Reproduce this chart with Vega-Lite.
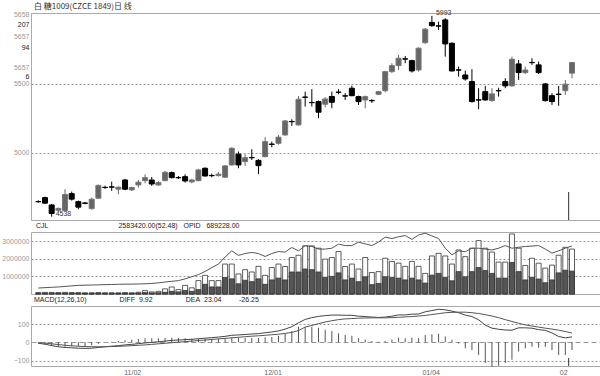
{
"$schema": "https://vega.github.io/schema/vega-lite/v6.json",
"padding": {"top": 3, "left": 0, "right": 0, "bottom": 0},
"background": "white",
"spacing": 0,
"title": {"text": "白\u00a0糖1009(CZCE 1849)日\u00a0线", "anchor": "start", "frame": "group", "font": "Noto Sans CJK SC", "fontSize": 8, "fontWeight": "normal", "color": "#333", "offset": -3, "dx": 3},
"datasets": {
"k": [
{"i":0,"o":4648,"h":4656,"l":4640,"c":4646,"v":80000,"vi":40000,"oi":340000,"dif":-5,"dea":-2,"m":-6},
{"i":1,"o":4676,"h":4683,"l":4630,"c":4636,"v":90000,"vi":45000,"oi":360000,"dif":-10,"dea":-4,"m":-12},
{"i":2,"o":4623,"h":4630,"l":4538,"c":4561,"v":90000,"vi":45000,"oi":380000,"dif":-18,"dea":-8,"m":-20},
{"i":3,"o":4585,"h":4605,"l":4575,"c":4598,"v":80000,"vi":40000,"oi":400000,"dif":-24,"dea":-12,"m":-24},
{"i":4,"o":4583,"h":4737,"l":4575,"c":4699,"v":90000,"vi":45000,"oi":430000,"dif":-28,"dea":-16,"m":-24},
{"i":5,"o":4705,"h":4720,"l":4655,"c":4665,"v":80000,"vi":40000,"oi":460000,"dif":-30,"dea":-19,"m":-22},
{"i":6,"o":4647,"h":4655,"l":4592,"c":4607,"v":80000,"vi":40000,"oi":490000,"dif":-32,"dea":-21,"m":-22},
{"i":7,"o":4637,"h":4645,"l":4628,"c":4635,"v":70000,"vi":35000,"oi":500000,"dif":-33,"dea":-23,"m":-20},
{"i":8,"o":4596,"h":4676,"l":4590,"c":4665,"v":70000,"vi":35000,"oi":510000,"dif":-32,"dea":-24,"m":-16},
{"i":9,"o":4672,"h":4770,"l":4668,"c":4765,"v":80000,"vi":40000,"oi":520000,"dif":-28,"dea":-24,"m":-8},
{"i":10,"o":4751,"h":4762,"l":4740,"c":4749,"v":70000,"vi":35000,"oi":530000,"dif":-24,"dea":-24,"m":0},
{"i":11,"o":4754,"h":4792,"l":4725,"c":4752,"v":70000,"vi":35000,"oi":540000,"dif":-21,"dea":-23,"m":4},
{"i":12,"o":4737,"h":4756,"l":4702,"c":4752,"v":70000,"vi":35000,"oi":550000,"dif":-18,"dea":-22,"m":8},
{"i":13,"o":4804,"h":4812,"l":4730,"c":4737,"v":80000,"vi":40000,"oi":560000,"dif":-14,"dea":-20,"m":12},
{"i":14,"o":4732,"h":4755,"l":4725,"c":4749,"v":70000,"vi":35000,"oi":560000,"dif":-11,"dea":-18,"m":14},
{"i":15,"o":4768,"h":4804,"l":4749,"c":4788,"v":100000,"vi":50000,"oi":570000,"dif":-7,"dea":-16,"m":18},
{"i":16,"o":4799,"h":4845,"l":4780,"c":4821,"v":190000,"vi":80000,"oi":580000,"dif":-3,"dea":-14,"m":22},
{"i":17,"o":4804,"h":4826,"l":4761,"c":4775,"v":120000,"vi":60000,"oi":600000,"dif":0,"dea":-11,"m":22},
{"i":18,"o":4768,"h":4797,"l":4761,"c":4785,"v":150000,"vi":70000,"oi":630000,"dif":3,"dea":-8,"m":22},
{"i":19,"o":4799,"h":4870,"l":4795,"c":4860,"v":290000,"vi":100000,"oi":680000,"dif":7,"dea":-5,"m":24},
{"i":20,"o":4857,"h":4865,"l":4815,"c":4821,"v":400000,"vi":150000,"oi":720000,"dif":11,"dea":-2,"m":26},
{"i":21,"o":4822,"h":4833,"l":4812,"c":4820,"v":250000,"vi":120000,"oi":760000,"dif":13,"dea":1,"m":24},
{"i":22,"o":4828,"h":4845,"l":4785,"c":4797,"v":490000,"vi":200000,"oi":860000,"dif":15,"dea":4,"m":22},
{"i":23,"o":4790,"h":4812,"l":4780,"c":4804,"v":350000,"vi":150000,"oi":980000,"dif":17,"dea":7,"m":20},
{"i":24,"o":4799,"h":4885,"l":4795,"c":4877,"v":760000,"vi":250000,"oi":1100000,"dif":20,"dea":10,"m":20},
{"i":25,"o":4889,"h":4895,"l":4828,"c":4833,"v":1060000,"vi":550000,"oi":1280000,"dif":23,"dea":13,"m":20},
{"i":26,"o":4837,"h":4850,"l":4824,"c":4835,"v":760000,"vi":400000,"oi":1500000,"dif":26,"dea":16,"m":20},
{"i":27,"o":4836,"h":4862,"l":4828,"c":4846,"v":760000,"vi":400000,"oi":1700000,"dif":29,"dea":19,"m":20},
{"i":28,"o":4824,"h":4912,"l":4820,"c":4906,"v":1700000,"vi":940000,"oi":2100000,"dif":33,"dea":22,"m":22},
{"i":29,"o":4913,"h":5040,"l":4908,"c":5034,"v":1700000,"vi":860000,"oi":2450000,"dif":39,"dea":25,"m":28},
{"i":30,"o":4991,"h":5010,"l":4889,"c":4913,"v":1140000,"vi":580000,"oi":2190000,"dif":41,"dea":28,"m":26},
{"i":31,"o":4937,"h":4991,"l":4906,"c":4966,"v":1380000,"vi":780000,"oi":2300000,"dif":43,"dea":31,"m":24},
{"i":32,"o":4967,"h":5027,"l":4949,"c":4965,"v":1250000,"vi":700000,"oi":2360000,"dif":46,"dea":34,"m":24},
{"i":33,"o":4946,"h":4955,"l":4846,"c":4908,"v":1570000,"vi":860000,"oi":2300000,"dif":48,"dea":36,"m":24},
{"i":34,"o":4973,"h":5114,"l":4968,"c":5082,"v":1060000,"vi":550000,"oi":2130000,"dif":53,"dea":39,"m":28},
{"i":35,"o":5064,"h":5082,"l":5041,"c":5062,"v":1500000,"vi":800000,"oi":2300000,"dif":57,"dea":42,"m":30},
{"i":36,"o":5070,"h":5130,"l":5060,"c":5114,"v":1700000,"vi":900000,"oi":2410000,"dif":63,"dea":45,"m":36},
{"i":37,"o":5130,"h":5239,"l":5125,"c":5232,"v":1560000,"vi":800000,"oi":2380000,"dif":73,"dea":49,"m":48},
{"i":38,"o":5228,"h":5244,"l":5196,"c":5226,"v":2070000,"vi":1250000,"oi":2640000,"dif":86,"dea":55,"m":62},
{"i":39,"o":5203,"h":5413,"l":5198,"c":5389,"v":2200000,"vi":1250000,"oi":2450000,"dif":108,"dea":65,"m":86},
{"i":40,"o":5405,"h":5444,"l":5336,"c":5403,"v":2730000,"vi":1420000,"oi":2750000,"dif":126,"dea":84,"m":84},
{"i":41,"o":5366,"h":5462,"l":5336,"c":5364,"v":2730000,"vi":1380000,"oi":2700000,"dif":136,"dea":93,"m":86},
{"i":42,"o":5372,"h":5380,"l":5251,"c":5295,"v":2600000,"vi":1250000,"oi":2550000,"dif":143,"dea":103,"m":80},
{"i":43,"o":5353,"h":5404,"l":5331,"c":5391,"v":1980000,"vi":950000,"oi":2550000,"dif":147,"dea":112,"m":70},
{"i":44,"o":5409,"h":5444,"l":5324,"c":5367,"v":2070000,"vi":1000000,"oi":2600000,"dif":150,"dea":119,"m":62},
{"i":45,"o":5441,"h":5462,"l":5425,"c":5439,"v":2410000,"vi":1200000,"oi":2830000,"dif":150,"dea":125,"m":50},
{"i":46,"o":5414,"h":5433,"l":5384,"c":5412,"v":1560000,"vi":800000,"oi":2750000,"dif":149,"dea":129,"m":40},
{"i":47,"o":5469,"h":5488,"l":5410,"c":5415,"v":1700000,"vi":900000,"oi":2750000,"dif":149,"dea":131,"m":36},
{"i":48,"o":5408,"h":5415,"l":5348,"c":5372,"v":1420000,"vi":700000,"oi":2940000,"dif":144,"dea":133,"m":22},
{"i":49,"o":5384,"h":5415,"l":5324,"c":5408,"v":2070000,"vi":980000,"oi":2850000,"dif":142,"dea":134,"m":16},
{"i":50,"o":5380,"h":5391,"l":5362,"c":5378,"v":1220000,"vi":530000,"oi":2750000,"dif":139,"dea":135,"m":8},
{"i":51,"o":5425,"h":5450,"l":5420,"c":5444,"v":1270000,"vi":600000,"oi":2950000,"dif":137,"dea":135,"m":4},
{"i":52,"o":5451,"h":5595,"l":5440,"c":5589,"v":2030000,"vi":980000,"oi":3230000,"dif":139,"dea":135,"m":8},
{"i":53,"o":5589,"h":5650,"l":5580,"c":5633,"v":1850000,"vi":950000,"oi":3150000,"dif":144,"dea":136,"m":16},
{"i":54,"o":5633,"h":5710,"l":5601,"c":5686,"v":1750000,"vi":900000,"oi":3250000,"dif":151,"dea":138,"m":26},
{"i":55,"o":5682,"h":5703,"l":5650,"c":5680,"v":1570000,"vi":800000,"oi":3320000,"dif":151,"dea":140,"m":22},
{"i":56,"o":5669,"h":5675,"l":5582,"c":5594,"v":1850000,"vi":900000,"oi":3100000,"dif":155,"dea":142,"m":26},
{"i":57,"o":5601,"h":5765,"l":5589,"c":5759,"v":1570000,"vi":800000,"oi":3350000,"dif":156,"dea":145,"m":22},
{"i":58,"o":5799,"h":5905,"l":5790,"c":5897,"v":1170000,"vi":620000,"oi":3450000,"dif":168,"dea":148,"m":40},
{"i":59,"o":5946,"h":5993,"l":5915,"c":5922,"v":2160000,"vi":1070000,"oi":3300000,"dif":175,"dea":153,"m":44},
{"i":60,"o":5921,"h":5951,"l":5891,"c":5919,"v":2310000,"vi":1170000,"oi":3150000,"dif":182,"dea":158,"m":48},
{"i":61,"o":5964,"h":5976,"l":5698,"c":5790,"v":2160000,"vi":950000,"oi":2600000,"dif":179,"dea":163,"m":32},
{"i":62,"o":5795,"h":5800,"l":5590,"c":5594,"v":1700000,"vi":750000,"oi":2230000,"dif":172,"dea":165,"m":14},
{"i":63,"o":5602,"h":5625,"l":5553,"c":5600,"v":2500000,"vi":1270000,"oi":2450000,"dif":163,"dea":166,"m":-6},
{"i":64,"o":5565,"h":5596,"l":5524,"c":5536,"v":2120000,"vi":980000,"oi":2400000,"dif":150,"dea":166,"m":-32},
{"i":65,"o":5517,"h":5607,"l":5365,"c":5372,"v":2600000,"vi":1270000,"oi":2600000,"dif":142,"dea":163,"m":-42},
{"i":66,"o":5385,"h":5469,"l":5317,"c":5383,"v":3030000,"vi":1500000,"oi":2600000,"dif":124,"dea":159,"m":-70},
{"i":67,"o":5444,"h":5486,"l":5378,"c":5384,"v":2600000,"vi":1330000,"oi":2550000,"dif":95,"dea":152,"m":-114},
{"i":68,"o":5379,"h":5469,"l":5372,"c":5428,"v":2380000,"vi":1170000,"oi":2500000,"dif":78,"dea":145,"m":-134},
{"i":69,"o":5452,"h":5473,"l":5408,"c":5450,"v":1810000,"vi":900000,"oi":2600000,"dif":72,"dea":136,"m":-128},
{"i":70,"o":5517,"h":5541,"l":5469,"c":5486,"v":1810000,"vi":900000,"oi":2750000,"dif":68,"dea":125,"m":-114},
{"i":71,"o":5486,"h":5698,"l":5480,"c":5679,"v":3410000,"vi":1790000,"oi":2600000,"dif":67,"dea":115,"m":-96},
{"i":72,"o":5645,"h":5674,"l":5529,"c":5582,"v":2600000,"vi":1270000,"oi":2650000,"dif":80,"dea":105,"m":-50},
{"i":73,"o":5582,"h":5625,"l":5572,"c":5601,"v":1620000,"vi":800000,"oi":2700000,"dif":80,"dea":96,"m":-33},
{"i":74,"o":5656,"h":5686,"l":5638,"c":5654,"v":2030000,"vi":950000,"oi":2720000,"dif":78,"dea":90,"m":-24},
{"i":75,"o":5638,"h":5662,"l":5572,"c":5582,"v":1750000,"vi":850000,"oi":2750000,"dif":70,"dea":84,"m":-29},
{"i":76,"o":5500,"h":5507,"l":5372,"c":5379,"v":1470000,"vi":640000,"oi":2550000,"dif":66,"dea":78,"m":-24},
{"i":77,"o":5415,"h":5433,"l":5348,"c":5372,"v":1640000,"vi":800000,"oi":2320000,"dif":52,"dea":73,"m":-42},
{"i":78,"o":5426,"h":5486,"l":5341,"c":5424,"v":2200000,"vi":1200000,"oi":2450000,"dif":32,"dea":67,"m":-70},
{"i":79,"o":5451,"h":5529,"l":5420,"c":5498,"v":2650000,"vi":1350000,"oi":2600000,"dif":25,"dea":60,"m":-70},
{"i":80,"o":5578,"h":5660,"l":5541,"c":5655,"v":2550000,"vi":1300000,"oi":2730000,"dif":30,"dea":51,"m":-42}
]
},
"vconcat": [
{
"width": 570, "height": 207,
"data": {"name": "k"},
"encoding": {"x": {"field": "i", "type": "quantitative", "scale": {"domain": [-0.35, 83.6], "nice": false, "zero": false}, "axis": null}},
"layer": [
{"mark": {"type": "rule", "strokeWidth": 1},
 "encoding": {
  "y": {"field": "l", "type": "quantitative", "scale": {"domain": [4514, 6014], "nice": false, "zero": false},
   "axis": {"values": [5000, 5500, 5551, 5616, 5761, 5841, 5928, 6000], "tickCount": 50, "format": "d",
    "labelExpr": "datum.value==6000?'5658':datum.value==5928?'207':datum.value==5841?'5657':datum.value==5761?'94':datum.value==5616?'5657':datum.value==5551?'6':datum.label",
    "grid": true, "gridDash": [2, 2], "gridColor": "#999",
    "gridOpacity": {"condition": {"test": "datum.value==5000||datum.value==5500", "value": 1}, "value": 0},
    "labelColor": {"condition": {"test": "datum.value==5928||datum.value==5761||datum.value==5551", "value": "#222"}, "value": "#999"},
    "title": null, "labelPadding": 2, "minExtent": 30, "maxExtent": 30}},
  "y2": {"field": "h"},
  "color": {"condition": {"test": "datum.c >= datum.o", "value": "#666"}, "value": "#000"}}},
{"mark": {"type": "bar", "size": 5, "strokeWidth": 1, "orient": "vertical"},
 "encoding": {
  "y": {"field": "o", "type": "quantitative"},
  "y2": {"field": "c"},
  "fill": {"condition": {"test": "datum.c >= datum.o", "value": "#666"}, "value": "#000"},
  "stroke": {"condition": {"test": "datum.c >= datum.o", "value": "#777"}, "value": "#000"}}},
{"data": {"values": [{"i": 2, "p": 4538, "t": "4538"}, {"i": 59, "p": 5993, "t": "5993"}]},
 "mark": {"type": "text", "align": "left", "baseline": "middle", "dx": 4, "dy": -3, "font": "Liberation Sans", "fontSize": 7, "color": "#333"},
 "encoding": {"y": {"field": "p", "type": "quantitative"}, "text": {"field": "t", "type": "nominal"}}},
{"data": {"values": [{"i": 79.5, "a": 4717, "b": 4514}]},
 "mark": {"type": "rule", "color": "#333", "strokeWidth": 1},
 "encoding": {"y": {"field": "a", "type": "quantitative"}, "y2": {"field": "b"}}}
]
},
{
"width": 570, "height": 62,
"title": {"text": "CJL\u00a0\u00a0\u00a0\u00a0\u00a0\u00a0\u00a0\u00a0\u00a0\u00a0\u00a0\u00a0\u00a0\u00a0\u00a0\u00a0\u00a0\u00a0\u00a0\u00a0\u00a0\u00a0\u00a0\u00a0\u00a0\u00a0\u00a0\u00a0\u00a0\u00a0\u00a0\u00a0\u00a0\u00a0\u00a0\u00a02583420.00(52.48)\u00a0\u00a0\u00a0OPID\u00a0\u00a0\u00a0689228.00", "anchor": "start", "frame": "group", "font": "Liberation Sans", "fontSize": 7, "fontWeight": "normal", "color": "#222", "offset": 2, "dx": 5},
"data": {"name": "k"},
"encoding": {"x": {"field": "i", "type": "quantitative", "scale": {"domain": [-0.35, 83.6], "nice": false, "zero": false}, "axis": null}},
"layer": [
{"mark": {"type": "bar", "size": 5, "fill": "white", "stroke": "#333", "strokeWidth": 0.8, "orient": "vertical"},
 "encoding": {"y": {"field": "v", "type": "quantitative", "scale": {"domain": [0, 3520000], "nice": false},
   "axis": {"values": [1000000, 2000000, 3000000], "tickCount": 50, "format": "d", "grid": true, "gridDash": [2, 2], "gridColor": "#999", "labelColor": "#999", "title": null, "labelPadding": 2, "minExtent": 30, "maxExtent": 30}}}},
{"mark": {"type": "bar", "size": 5, "fill": "#555", "stroke": "#333", "strokeWidth": 0.8, "orient": "vertical"},
 "encoding": {"y": {"field": "vi", "type": "quantitative"}}},
{"mark": {"type": "line", "color": "#555", "strokeWidth": 1},
 "encoding": {"y": {"field": "oi", "type": "quantitative"}}}
]
},
{
"width": 570, "height": 60,
"title": {"text": "MACD(12,26,10)\u00a0\u00a0\u00a0\u00a0\u00a0\u00a0\u00a0\u00a0\u00a0\u00a0\u00a0\u00a0\u00a0\u00a0\u00a0\u00a0\u00a0DIFF\u00a0\u00a09.92\u00a0\u00a0\u00a0\u00a0\u00a0\u00a0\u00a0\u00a0\u00a0\u00a0\u00a0\u00a0\u00a0\u00a0\u00a0\u00a0\u00a0DEA\u00a0\u00a023.04\u00a0\u00a0\u00a0\u00a0\u00a0\u00a0\u00a0\u00a0\u00a0-26.25", "anchor": "start", "frame": "group", "font": "Liberation Sans", "fontSize": 7, "fontWeight": "normal", "color": "#222", "offset": 3, "dx": 3},
"data": {"name": "k"},
"encoding": {"x": {"field": "i", "type": "quantitative", "scale": {"domain": [-0.35, 83.6], "nice": false, "zero": false},
  "axis": {"values": [12.8, 33.8, 57.5, 78.1], "tickCount": 50, "labelExpr": "datum.value<20?'11/02':datum.value<40?'12/01':datum.value<60?'01/04':'02'", "labelAlign": "left", "labelColor": "#666", "grid": false, "labelPadding": 2, "title": null, "labelFlush": false}}},
"layer": [
{"mark": {"type": "bar", "color": "#555", "size": 1, "orient": "vertical"},
 "encoding": {"y": {"field": "m", "type": "quantitative", "scale": {"domain": [-130, 200], "nice": false, "zero": false},
   "axis": {"values": [-100, 0, 100], "tickCount": 50, "format": "d", "grid": true, "gridColor": "#999",
    "gridDash": {"condition": {"test": "datum.value==0", "value": [5, 3]}, "value": [2, 2]},
    "labelColor": "#999", "title": null, "labelPadding": 2, "minExtent": 30, "maxExtent": 30}}}},
{"mark": {"type": "line", "color": "#444", "strokeWidth": 1},
 "encoding": {"y": {"field": "dif", "type": "quantitative"}}},
{"mark": {"type": "line", "color": "#555", "strokeWidth": 1},
 "encoding": {"y": {"field": "dea", "type": "quantitative"}}},
{"data": {"values": [{"i": 79.5, "a": -86, "b": -130}]},
 "mark": {"type": "rule", "color": "#333", "strokeWidth": 1},
 "encoding": {"y": {"field": "a", "type": "quantitative"}, "y2": {"field": "b"}}}
]
}
],
"config": {
"view": {"stroke": "#aaa", "strokeWidth": 1},
"axis": {"labelFont": "Liberation Sans", "labelFontSize": 7, "ticks": false, "domain": false, "labelOverlap": false}
}
}
